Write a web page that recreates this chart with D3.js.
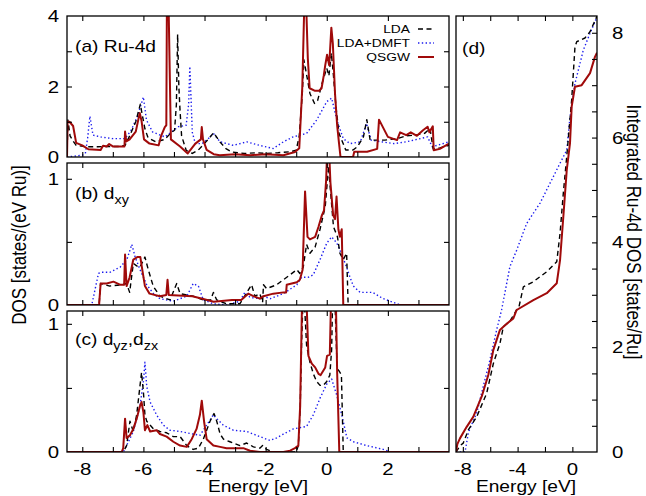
<!DOCTYPE html>
<html>
<head>
<meta charset="utf-8">
<script src="https://cdn.jsdelivr.net/npm/d3@7"></script>
<style>
  body { margin: 0; background: #fff; }
  text { font-family: "Liberation Sans", Arial, Helvetica, sans-serif; fill: #000; }
</style>
</head>
<body>
<div id="chart"></div>
<script>
// ---- data: [energy eV, value] ----
// (a) Ru-4d total
var a_lda = [[-8.5,0],[-8.47,1.05],[-8.4,0.6],[-8.3,0.45],[-8.2,0.33],[-7.9,0.29],[-7.5,0.29],[-7.2,0.3],[-6.8,0.3],[-6.6,0.33],[-6.45,0.6],[-6.25,1.0],[-6.1,1.5],[-6.06,1.3],[-5.95,0.8],[-5.85,0.55],[-5.6,0.43],[-5.3,0.5],[-5.08,0.7],[-4.98,0.76],[-4.92,1.5],[-4.88,3.48],[-4.84,2.0],[-4.8,1.3],[-4.75,0.6],[-4.6,0.19],[-4.4,0.1],[-4.2,0.2],[-3.9,0.48],[-3.7,0.69],[-3.5,0.43],[-3.3,0.24],[-3.1,0.14],[-2.7,0.1],[-2.3,0.12],[-2.0,0.1],[-1.6,0.12],[-1.2,0.15],[-1.0,0.19],[-0.9,0.6],[-0.8,1.8],[-0.75,2.76],[-0.65,2.29],[-0.55,1.8],[-0.4,1.52],[-0.3,1.6],[-0.15,2.1],[0.0,2.52],[0.07,2.3],[0.15,2.95],[0.22,2.3],[0.3,1.43],[0.4,0.67],[0.49,0.48],[0.62,0.2],[0.86,0.2],[1.0,0.29],[1.2,0.57],[1.31,1.06],[1.42,0.48],[1.9,0.48],[2.3,0.52],[2.6,0.6],[2.9,0.62],[3.2,0.67],[3.38,0.81],[3.48,0.23],[3.7,0.26],[4.0,0.33]];
var a_dmft = [[-8.5,0],[-8.0,0.05],[-7.9,0.1],[-7.82,0.57],[-7.75,1.16],[-7.65,0.62],[-7.4,0.57],[-7.0,0.52],[-6.6,0.52],[-6.4,0.76],[-6.2,1.14],[-6.0,1.7],[-5.9,1.05],[-5.7,0.71],[-5.3,0.57],[-4.85,0.86],[-4.6,0.9],[-4.52,1.5],[-4.48,2.57],[-4.4,0.7],[-4.3,0.38],[-4.08,0.38],[-3.9,0.5],[-3.71,0.67],[-3.49,0.43],[-3.06,0.33],[-2.62,0.43],[-2.2,0.33],[-1.75,0.24],[-1.42,0.43],[-1.1,0.57],[-0.66,0.67],[-0.33,1.05],[0.0,1.57],[0.16,1.67],[0.33,1.05],[0.54,0.52],[0.76,0.38],[1.1,0.43],[1.3,0.95],[1.45,0.48],[1.8,0.43],[2.2,0.38],[2.6,0.43],[3.3,0.57],[3.45,0.29],[4.0,0.43]];
var a_qsgw = [[-8.5,0],[-8.48,1.0],[-8.42,1.0],[-8.3,0.88],[-8.2,0.4],[-8.0,0.33],[-7.8,0.22],[-7.4,0.2],[-7.32,0.32],[-7.2,0.3],[-7.12,0.37],[-7.0,0.3],[-6.62,0.3],[-6.6,0.72],[-6.56,0.44],[-6.45,0.5],[-6.25,0.72],[-6.12,1.25],[-6.06,1.02],[-5.98,0.5],[-5.8,0.38],[-5.5,0.33],[-5.42,0.6],[-5.3,0.85],[-5.25,0.9],[-5.23,4.5],[-5.18,4.5],[-5.1,0.5],[-4.8,0.3],[-4.55,0.1],[-4.3,0.38],[-4.12,0.5],[-4.09,0.85],[-4.05,0.5],[-3.93,0.2],[-3.7,0.08],[-3.5,0.05],[-3.0,0.08],[-2.5,0.05],[-2.0,0.08],[-1.42,0.05],[-1.04,0.14],[-0.9,0.25],[-0.8,2.0],[-0.73,4.5],[-0.68,4.5],[-0.62,2.8],[-0.56,1.95],[-0.4,1.88],[-0.25,1.88],[-0.17,1.95],[-0.1,2.3],[-0.05,2.6],[0.01,2.9],[0.08,2.6],[0.15,3.67],[0.2,3.2],[0.27,1.8],[0.34,0.9],[0.4,0.4],[0.45,0],[0.86,0],[0.9,0.15],[1.32,0.15],[1.65,0.23],[1.71,1.06],[2.0,0.57],[2.3,0.48],[2.4,0.7],[2.6,0.62],[2.75,0.7],[2.95,0.6],[3.15,0.76],[3.3,0.86],[3.36,0.7],[3.47,0.87],[3.5,0.19],[3.7,0.23],[4.0,0.38]];

// (b) d_xy
var b_lda = [[-8.5,0],[-7.45,0],[-7.4,0.17],[-7.1,0.15],[-6.7,0.16],[-6.55,0.17],[-6.45,0.1],[-6.33,0.33],[-6.22,0.31],[-6.11,0.3],[-5.95,0.38],[-5.84,0.28],[-5.68,0.15],[-5.46,0.07],[-5.13,0.04],[-4.91,0.17],[-4.8,0.09],[-4.37,0.07],[-4.04,0.04],[-3.8,0.04],[-3.71,0.1],[-3.6,0.04],[-3.28,0.01],[-2.84,0.01],[-2.46,0.16],[-2.35,0.07],[-2.19,0.09],[-2.1,0.02],[-2.07,0.16],[-1.97,0.13],[-1.64,0.16],[-1.42,0.2],[-0.98,0.28],[-0.88,0.25],[-0.77,0.3],[-0.66,0.48],[-0.55,0.41],[-0.38,0.46],[-0.22,0.6],[-0.05,0.78],[0.06,1.1],[0.11,0.94],[0.22,0.62],[0.35,0.54],[0.43,0.41],[0.54,0.36],[0.65,0.41],[0.7,0],[4.0,0]];
var b_dmft = [[-8.5,0],[-7.69,0],[-7.47,0.25],[-7.36,0.26],[-7.09,0.26],[-6.76,0.3],[-6.54,0.36],[-6.38,0.48],[-6.27,0.38],[-6.11,0.28],[-5.89,0.16],[-5.67,0.09],[-5.46,0.05],[-5.02,0.03],[-4.58,0.07],[-4.37,0.17],[-4.2,0.15],[-4.04,0.04],[-3.71,0.01],[-3.28,0],[-2.84,0.03],[-2.68,0.1],[-2.51,0.06],[-2.19,0.05],[-2.07,0.07],[-1.85,0.05],[-1.42,0.09],[-0.98,0.16],[-0.82,0.22],[-0.6,0.22],[-0.44,0.24],[-0.22,0.36],[0.0,0.49],[0.16,0.54],[0.33,0.49],[0.49,0.4],[0.65,0.3],[0.76,0.22],[0.87,0.15],[1.09,0.1],[1.5,0.1],[1.85,0.05],[2.3,0.01],[2.4,0],[4.0,0]];
var b_qsgw = [[-8.5,0],[-7.45,0],[-7.4,0.17],[-7.2,0.17],[-6.98,0.185],[-6.75,0.16],[-6.63,0.16],[-6.6,0.4],[-6.55,0.15],[-6.45,0.22],[-6.33,0.36],[-6.2,0.38],[-6.1,0.38],[-6.05,0.3],[-5.95,0.15],[-5.8,0.09],[-5.46,0.07],[-5.25,0.08],[-5.21,0.2],[-5.17,0.08],[-4.4,0.07],[-4.07,0.05],[-3.7,0.026],[-3.1,0.04],[-2.8,0.04],[-2.57,0.09],[-2.4,0.07],[-2.19,0.05],[-2.07,0.07],[-1.75,0.09],[-1.42,0.1],[-1.33,0.1],[-1.31,0.16],[-0.98,0.18],[-0.88,0.2],[-0.79,0.28],[-0.71,0.9],[-0.63,0.54],[-0.55,0.52],[-0.38,0.54],[-0.27,0.62],[-0.16,0.71],[-0.09,0.75],[-0.02,0.99],[0.01,1.2],[0.08,1.2],[0.12,0.97],[0.21,0.71],[0.27,0.68],[0.32,0.86],[0.38,0.6],[0.43,0.54],[0.49,0.6],[0.54,0],[4.0,0]];

// (c) d_yz, d_zx
var c_lda = [[-8.5,0],[-6.66,0],[-6.55,0.05],[-6.44,0.24],[-6.33,0.16],[-6.22,0.29],[-6.11,0.52],[-6.06,0.62],[-6.0,0.47],[-5.95,0.29],[-5.89,0.24],[-5.67,0.18],[-5.46,0.16],[-5.24,0.15],[-5.02,0.12],[-4.8,0.12],[-4.58,0.05],[-4.37,0.02],[-4.2,0.03],[-4.04,0.1],[-3.82,0.24],[-3.69,0.3],[-3.6,0.24],[-3.49,0.14],[-3.38,0.1],[-3.17,0.08],[-2.84,0.05],[-2.62,0.07],[-2.4,0.04],[-2.19,0.03],[-2.1,0.05],[-1.97,0.02],[-1.75,0],[-1.0,0],[-0.93,0.05],[-0.87,0.34],[-0.82,0.88],[-0.76,1.3],[-0.66,0.83],[-0.55,0.7],[-0.44,0.61],[-0.33,0.55],[-0.22,0.52],[-0.11,0.52],[0.0,0.55],[0.1,0.6],[0.16,0.8],[0.2,1.3],[0.25,1.3],[0.34,0.65],[0.41,0.63],[0.48,0.6],[0.54,0],[4.0,0]];
var c_dmft = [[-8.5,0],[-6.66,0],[-6.55,0.05],[-6.33,0.16],[-6.11,0.36],[-6.0,0.55],[-5.95,0.7],[-5.89,0.51],[-5.78,0.39],[-5.57,0.29],[-5.35,0.21],[-5.13,0.17],[-4.8,0.16],[-4.37,0.14],[-4.15,0.13],[-3.93,0.21],[-3.71,0.29],[-3.6,0.26],[-3.39,0.21],[-3.06,0.17],[-2.62,0.16],[-2.19,0.12],[-1.86,0.09],[-1.64,0.11],[-1.42,0.14],[-1.09,0.18],[-0.66,0.2],[-0.44,0.29],[-0.22,0.42],[0.0,0.53],[0.16,0.57],[0.33,0.44],[0.49,0.29],[0.66,0.11],[0.87,0.08],[1.31,0.05],[1.85,0.02],[2.1,0],[4.0,0]];
var c_qsgw = [[-8.5,0],[-6.71,0],[-6.66,0.03],[-6.6,0.26],[-6.55,0.11],[-6.44,0.13],[-6.33,0.18],[-6.22,0.26],[-6.11,0.36],[-6.06,0.39],[-6.0,0.31],[-5.95,0.17],[-5.87,0.21],[-5.78,0.16],[-5.57,0.17],[-5.46,0.14],[-5.24,0.12],[-5.02,0.08],[-4.8,0.05],[-4.58,0.04],[-4.42,0.1],[-4.26,0.18],[-4.15,0.29],[-4.09,0.4],[-4.01,0.23],[-3.93,0.1],[-3.71,0.05],[-3.49,0.04],[-3.28,0.03],[-3.06,0.03],[-2.73,0.03],[-2.51,0.01],[-2.19,0],[-1.42,0],[-1.2,0.01],[-1.04,0.03],[-0.93,0.05],[-0.87,0.36],[-0.8,1.3],[-0.68,1.3],[-0.6,0.75],[-0.49,0.69],[-0.38,0.66],[-0.27,0.61],[-0.2,0.6],[-0.05,0.66],[0.01,0.75],[0.1,0.76],[0.15,1.3],[0.29,1.3],[0.34,0.62],[0.41,0],[4.0,0]];

// (d) integrated Ru-4d DOS
var d_lda = [[-8.5,0],[-8.2,0.12],[-7.97,0.17],[-7.6,0.42],[-6.99,0.67],[-6.26,1.12],[-5.77,1.69],[-5.29,2.07],[-5.04,2.39],[-4.56,2.5],[-4.07,2.71],[-3.9,2.77],[-3.58,3.15],[-2.85,3.25],[-1.87,3.44],[-1.14,3.63],[-0.9,4.17],[-0.66,4.94],[-0.41,5.64],[-0.05,6.72],[0.19,7.73],[0.32,7.83],[0.92,7.9],[1.29,8.02],[1.8,8.32]];
var d_dmft = [[-8.5,0],[-7.84,0],[-7.6,0.36],[-7.48,0.45],[-6.99,0.74],[-6.51,1.25],[-6.02,1.76],[-5.53,2.33],[-5.17,2.71],[-4.56,3.54],[-4.07,3.85],[-3.34,4.36],[-2.36,4.75],[-1.63,5.13],[-0.9,5.51],[-0.41,5.76],[-0.17,6.4],[0.19,7.03],[0.8,7.67],[1.29,7.99],[1.8,8.3]];
var d_qsgw = [[-8.5,0],[-8.4,0.15],[-8.21,0.26],[-7.72,0.48],[-7.24,0.67],[-6.62,1.06],[-6.14,1.47],[-5.77,1.95],[-5.29,2.33],[-4.92,2.42],[-4.31,2.55],[-4.07,2.71],[-2.85,2.9],[-1.87,3.03],[-1.14,3.22],[-0.9,3.66],[-0.66,4.49],[-0.41,5.38],[-0.17,5.9],[-0.05,6.59],[0.19,6.97],[0.68,7.0],[1.29,7.23],[1.65,7.54],[1.8,7.62]];

var seriesNames = ["LDA", "LDA+DMFT", "QSGW"];
var xTickLabelsLeft = [-8, -6, -4, -2, 0, 2];
var xTickLabelsD = [-8, -4, 0];
var yTickLabelsA = [0, 2, 4];
var yTickLabelsBC = [0, 1];
var yTickLabelsD = [0, 2, 4, 6, 8];

// ---- layout ----
var width = 646, height = 496;
var SX = 1.2;           // the original figure is stretched horizontally
var styles = {
  "LDA":      {stroke: "#000", width: 1.4, dash: "5,3.5"},
  "LDA+DMFT": {stroke: "#1a1aee", width: 1.4, dash: "1.4,2.4"},
  "QSGW":     {stroke: "#a00a0a", width: 2, dash: null}
};

var svg = d3.select("#chart").append("svg")
  .attr("width", width)
  .attr("height", height);

var xL = d3.scaleLinear().domain([-8.5, 4]).range([67, 449]);
var xD = d3.scaleLinear().domain([-8.5, 1.8]).range([456, 597]);

function txt(g, x, y, s, size, anchor) {
  return g.append("text")
    .attr("transform", "translate(" + x + "," + y + ") scale(" + SX + ",1)")
    .attr("text-anchor", anchor || "start")
    .style("font-size", size + "px")
    .text(s);
}

var clipId = 0;
function panel(x, y, sets) {
  var g = svg.append("g");
  var id = "clip" + (clipId++);
  var x0 = x.range()[0], x1 = x.range()[1], y0 = y.range()[1], y1 = y.range()[0];
  svg.append("clipPath").attr("id", id)
    .append("rect").attr("x", x0).attr("y", y0).attr("width", x1 - x0).attr("height", y1 - y0);

  var line = d3.line()
    .x(function(d) { return x(d[0]); })
    .y(function(d) { return y(d[1]); });

  var lines = g.append("g").attr("clip-path", "url(#" + id + ")");
  sets.forEach(function(s) {
    var st = styles[s.name];
    lines.append("path")
      .datum(s.data)
      .attr("d", line)
      .attr("fill", "none")
      .attr("stroke", st.stroke)
      .attr("stroke-width", st.width)
      .attr("stroke-dasharray", st.dash)
      .attr("stroke-linejoin", "round");
  });

  g.append("rect")
    .attr("x", x0).attr("y", y0)
    .attr("width", x1 - x0).attr("height", y1 - y0)
    .attr("fill", "none").attr("stroke", "#000").attr("stroke-width", 1.3);
  return g;
}

function ticks(g, axis, pos) {
  g.append("g")
    .attr("transform", pos)
    .call(axis)
    .call(function(s) { s.select(".domain").remove(); })
    .selectAll("line").attr("stroke", "#000").attr("stroke-width", 1.1);
}

var panelsLeft = [
  {lda: a_lda, dmft: a_dmft, qsgw: a_qsgw, top: 16,  bottom: 157, ymax: 4,     yt: [1, 2, 3],   labels: yTickLabelsA},
  {lda: b_lda, dmft: b_dmft, qsgw: b_qsgw, top: 163, bottom: 305, ymax: 1.125, yt: [0.5, 1],    labels: yTickLabelsBC},
  {lda: c_lda, dmft: c_dmft, qsgw: c_qsgw, top: 311, bottom: 452, ymax: 1.1,   yt: [0.5, 1],    labels: yTickLabelsBC}
];

panelsLeft.forEach(function(p, i) {
  var y = d3.scaleLinear().domain([0, p.ymax]).range([p.bottom, p.top]);
  var g = panel(xL, y, [
    {name: "LDA+DMFT", data: p.dmft},
    {name: "LDA", data: p.lda},
    {name: "QSGW", data: p.qsgw}
  ]);
  ticks(g, d3.axisBottom(xL).tickValues(d3.range(-8, 4, 1)).tickSize(-5).tickFormat(""), "translate(0," + p.bottom + ")");
  ticks(g, d3.axisTop(xL).tickValues(d3.range(-8, 4, 2)).tickSize(-5).tickFormat(""), "translate(0," + p.top + ")");
  ticks(g, d3.axisLeft(y).tickValues(p.yt).tickSize(-5).tickFormat(""), "translate(67,0)");
  ticks(g, d3.axisRight(y).tickValues(p.yt).tickSize(-5).tickFormat(""), "translate(449,0)");
  p.labels.forEach(function(v) { txt(svg, 59, y(v) + 6, String(v), 17, "end"); });
  if (i == 2) {
    xTickLabelsLeft.forEach(function(v) { txt(svg, xL(v), 475, String(v), 17, "middle"); });
  }
});

// panel (d)
var yD = d3.scaleLinear().domain([0, 8.32]).range([452, 16]);
var gD = panel(xD, yD, [
  {name: "LDA+DMFT", data: d_dmft},
  {name: "LDA", data: d_lda},
  {name: "QSGW", data: d_qsgw}
]);
ticks(gD, d3.axisBottom(xD).tickValues(d3.range(-8, 1.8, 2)).tickSize(-5).tickFormat(""), "translate(0,452)");
ticks(gD, d3.axisTop(xD).tickValues(d3.range(-8, 1.8, 2)).tickSize(-5).tickFormat(""), "translate(0,16)");
ticks(gD, d3.axisRight(yD).tickValues(d3.range(0.5, 8.3, 0.5)).tickSize(-5).tickFormat(""), "translate(597,0)");
yTickLabelsD.forEach(function(v) { txt(svg, 612, yD(v) + 6, String(v), 17, "start"); });
xTickLabelsD.forEach(function(v) { txt(svg, xD(v), 475, String(v), 17, "middle"); });

// panel labels
txt(svg, 75, 52, "(a) Ru-4d", 16);
var tb = txt(svg, 75, 199, "(b) d", 16);
tb.append("tspan").attr("dy", 5).style("font-size", "12px").text("xy");
var tc = txt(svg, 75, 345, "(c) d", 16);
tc.append("tspan").attr("dy", 5).style("font-size", "12px").text("yz");
tc.append("tspan").attr("dy", -5).text(",d");
tc.append("tspan").attr("dy", 5).style("font-size", "12px").text("zx");
txt(svg, 462, 54, "(d)", 16);

// legend
var legY = [29, 43, 57];
seriesNames.forEach(function(n, i) {
  txt(svg, 410, legY[i] + 4, n, 11.5, "end");
  var st = styles[n];
  svg.append("line")
    .attr("x1", 418).attr("x2", 434)
    .attr("y1", legY[i]).attr("y2", legY[i])
    .attr("stroke", st.stroke).attr("stroke-width", st.width)
    .attr("stroke-dasharray", st.dash);
});

// axis titles
txt(svg, 258, 492, "Energy [eV]", 16, "middle");
txt(svg, 526, 492, "Energy [eV]", 16, "middle");
svg.append("text")
  .attr("transform", "translate(26,245) scale(" + SX + ",1) rotate(-90)")
  .attr("text-anchor", "middle").style("font-size", "17px")
  .text("DOS [states/(eV Ru)]");
svg.append("text")
  .attr("transform", "translate(627,232) scale(" + SX + ",1) rotate(90)")
  .attr("text-anchor", "middle").style("font-size", "17px")
  .text("Integrated Ru-4d DOS [states/Ru]");
</script>
</body>
</html>
